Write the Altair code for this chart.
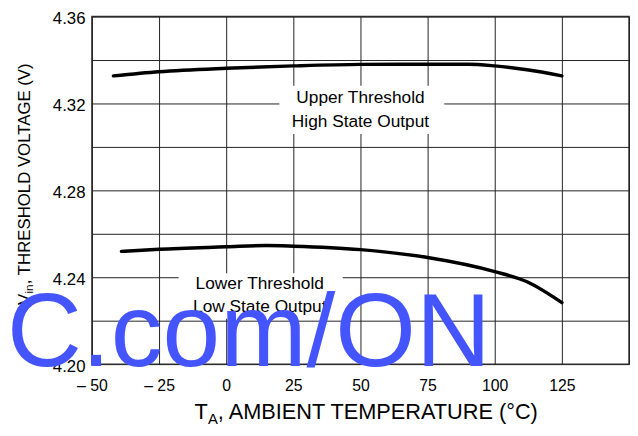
import altair as alt
import pandas as pd

# ---- data ----
upper_temp = [-42, -25, 0, 25, 50, 75, 90, 100, 112, 125]
upper_volt = [4.3327, 4.3346, 4.3362, 4.3373, 4.3380, 4.3381, 4.3381, 4.3373, 4.3355, 4.3327]
lower_temp = [-39, -25, 0, 15, 25, 50, 75, 100, 112, 125]
lower_volt = [4.2519, 4.2529, 4.2540, 4.2546, 4.2543, 4.2527, 4.2491, 4.2426, 4.2379, 4.2283]

x_ticks = [-50, -25, 0, 25, 50, 75, 100, 125, 150]
y_ticks = [4.20, 4.22, 4.24, 4.26, 4.28, 4.30, 4.32, 4.34, 4.36]

note_text = ["Upper Threshold", "High State Output", "Lower Threshold", "Low State Output"]
note_x = [50, 50, 12.5, 12.5]
note_y = [4.3202, 4.3091, 4.2345, 4.2241]

box_x1 = [19.8, -17.7]
box_x2 = [81.2, 43.4]
box_y1 = [4.3059, 4.2209]
box_y2 = [4.3282, 4.2418]

FONT = "Liberation Sans, Arial, Helvetica, sans-serif"

xs = alt.Scale(domain=[-50, 150], nice=False, zero=False)
ys = alt.Scale(domain=[4.20, 4.36], nice=False, zero=False)

curves = pd.DataFrame({
    "temp": upper_temp + lower_temp,
    "volt": upper_volt + lower_volt,
    "series": ["upper"] * len(upper_temp) + ["lower"] * len(lower_temp),
})

x_axis = alt.Axis(values=x_ticks, grid=True, ticks=False, tickSize=0, domain=False,
                  labelExpr="datum.value == 150 ? '' : (datum.value < 0 ? '\u2013 ' + abs(datum.value) : '' + datum.value)",
                  labelFont=FONT, labelFontSize=16, labelColor="black", labelPadding=14,
                  labelFlush=False, labelOverlap=False, title=None,
                  gridColor="#222", gridWidth=1, gridOpacity=1)
y_axis = alt.Axis(values=y_ticks, grid=True, ticks=False, tickSize=0, domain=False,
                  labelExpr="abs(round(datum.value * 100)) % 4 == 0 ? format(datum.value, '.2f') : ''",
                  labelFont=FONT, labelFontSize=17, labelColor="black", labelPadding=7,
                  labelOffset=2, labelOverlap=False, labelFlush=False, title=None,
                  gridColor="#222", gridWidth=1, gridOpacity=1)

lines = alt.Chart(curves).mark_line(color="black", strokeWidth=3.5, strokeCap="round",
                                    interpolate="monotone").encode(
    x=alt.X("temp:Q", scale=xs, axis=x_axis),
    y=alt.Y("volt:Q", scale=ys, axis=y_axis),
    detail="series:N",
)

boxes = alt.Chart(pd.DataFrame({"temp": box_x1, "temp2": box_x2, "volt": box_y1, "volt2": box_y2})).mark_rect(
    color="white").encode(
    x=alt.X("temp:Q", scale=xs, axis=x_axis), x2="temp2:Q",
    y=alt.Y("volt:Q", scale=ys, axis=y_axis), y2="volt2:Q",
)

notes = alt.Chart(pd.DataFrame({"t": note_text, "temp": note_x, "volt": note_y})).mark_text(
    font=FONT, fontSize=17.5, color="black", baseline="alphabetic", align="center").encode(
    x=alt.X("temp:Q", scale=xs, axis=x_axis),
    y=alt.Y("volt:Q", scale=ys, axis=y_axis),
    text="t:N",
)

def txt(s, x, y, size, angle=0):
    props = dict(text=s, font=FONT, fontSize=size, color="black", align="left", baseline="alphabetic")
    if angle:
        props["angle"] = angle
    return alt.Chart(pd.DataFrame({"a": [0]})).mark_text(**props).encode(
        x=alt.value(x), y=alt.value(y))

# x-axis title: T_A, AMBIENT TEMPERATURE (°C)
xt1 = txt("T", 104, 408, 22)
xt2 = txt("A", 117.5, 413, 15)
xt3 = txt(", AMBIENT TEMPERATURE (\u00b0C)", 127.5, 408, 22)

# y-axis title: V_in, THRESHOLD VOLTAGE (V)
yt1 = txt("V", -63, 292, 17, 270)
yt2 = txt("in", -60, 280.5, 12, 270)
yt3 = txt(", THRESHOLD VOLTAGE (V)", -63, 271, 17, 270)

watermark = alt.Chart(pd.DataFrame({"a": [0]})).mark_text(
    text="C.com/ON", font=FONT, fontSize=105, color="#4455ff",
    align="left", baseline="alphabetic").encode(x=alt.value(-86), y=alt.value(354))

chart = alt.layer(lines, boxes, notes, xt1, xt2, xt3, yt1, yt2, yt3, watermark).properties(
    width=544, height=352,
    autosize=alt.AutoSizeParams(type="none"),
    padding={"left": 85, "top": 6, "right": 1, "bottom": 62},
    background="white",
).configure_view(stroke="#333", strokeWidth=1.5)

chart.save("out.html", embed_options={"renderer": "svg", "actions": False})
